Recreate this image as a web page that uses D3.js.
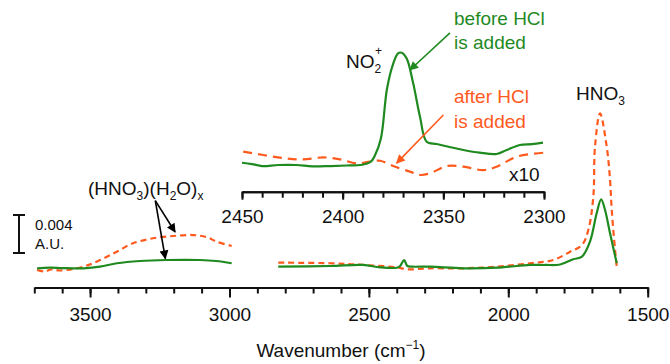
<!DOCTYPE html>
<html>
<head>
<meta charset="utf-8">
<style>
  body { margin: 0; background: #fff; }
  svg { display: block; font-family: "Liberation Sans", Arial, sans-serif; }
</style>
</head>
<body>
<svg width="670" height="364"></svg>
<script src="https://d3js.org/d3.v7.min.js"></script>
<script>

// spectra: [wavenumber (cm-1), absorbance (mA.U.)]
var mainGreenHigh = [[3690, 0.18], [3644, 0.24], [3600, 0.2], [3524, 0.18], [3464, 0.35], [3404, 0.71],
  [3321, 0.95], [3225, 1.05], [3106, 1.05], [3048, 0.95], [2992, 0.71]];
var mainOrangeHigh = [[3690, 0.0], [3662, -0.16], [3640, 0.05], [3608, -0.05], [3524, 0.35], [3464, 1.05],
  [3404, 1.93], [3346, 2.81], [3274, 3.34], [3202, 3.58], [3131, 3.68], [3080, 3.44], [3046, 2.98], [2992, 2.53]];
var mainGreenLow = [[2825, 0.35], [2639, 0.42], [2521, 0.53], [2460, 0.28], [2400, 0.24], [2388, 0.42],
  [2374, 1.05], [2362, 0.42], [2346, 0.35], [2281, 0.35], [2162, 0.18], [2041, 0.24], [1922, 0.53],
  [1868, 0.53], [1814, 0.58], [1767, 1.13], [1736, 1.4], [1707, 2.98], [1683, 5.97], [1667, 7.44],
  [1653, 6.32], [1635, 3.86], [1611, 0.71]];
var mainOrangeLow = [[2825, 0.77], [2639, 0.71], [2521, 0.53], [2400, 0.28], [2364, 0.07], [2281, 0.18],
  [2162, 0.18], [2041, 0.35], [1922, 0.71], [1839, 1.05], [1778, 1.93], [1736, 2.63], [1713, 4.21],
  [1695, 7.72], [1689, 12.98], [1671, 16.49], [1647, 12.98], [1635, 9.47], [1629, 6.32], [1617, 2.1],
  [1611, 0.35]];

// NO2+ region, drawn x10
var insetGreen = [[2450, 0.424], [2445, 0.41], [2440, 0.389], [2432, 0.40], [2423, 0.40], [2415, 0.385],
  [2406, 0.389], [2398, 0.395], [2391, 0.40], [2386, 0.435], [2384, 0.5], [2381, 0.68], [2378, 1.2],
  [2375, 1.46], [2372.5, 1.575], [2370.7, 1.582], [2368.2, 1.52], [2365, 1.263], [2361.6, 0.908],
  [2358.3, 0.645], [2353.3, 0.621], [2347, 0.59], [2340, 0.558], [2332, 0.53], [2323.5, 0.516],
  [2318.5, 0.558], [2312, 0.611], [2306, 0.62], [2300.5, 0.635]];
var insetOrange = [[2449.4, 0.54], [2439.4, 0.505], [2428.6, 0.47], [2419.6, 0.459], [2409.6, 0.48],
  [2401.3, 0.459], [2393, 0.417], [2386.4, 0.435], [2381.4, 0.445], [2374.9, 0.389], [2366.6, 0.33],
  [2361.6, 0.295], [2356.6, 0.312], [2348.3, 0.389], [2340.1, 0.382], [2330.1, 0.347], [2323.5, 0.382],
  [2313.6, 0.487], [2300.3, 0.529]];

var mainMajor = [3500, 3000, 2500, 2000, 1500];
var mainMinor = d3.range(3700, 1499, -100);
var insetMajor = [2450, 2400, 2350, 2300];
var insetMinor = d3.range(2450, 2299, -10);

var green = "#1f8a1f", orange = "#ff5a1e";

var svg = d3.select("svg");

var x = d3.scaleLinear().domain([3700, 1500]).range([34.3, 647.7]);
var y = d3.scaleLinear().domain([0, 4]).range([270, 232]);
var xIn = d3.scaleLinear().domain([2450, 2300]).range([242, 544]);
var yIn = d3.scaleLinear().domain([0, 0.4]).range([203, 165]);   // x10 of main scale

svg.append("defs").selectAll("marker")
  .data([["arrK", "#000"], ["arrG", green], ["arrO", orange]])
  .enter().append("marker")
    .attr("id", function(d) { return d[0]; })
    .attr("viewBox", "0 0 10 10")
    .attr("refX", 9).attr("refY", 5)
    .attr("markerWidth", 11).attr("markerHeight", 9)
    .attr("markerUnits", "userSpaceOnUse")
    .attr("orient", "auto")
  .append("path")
    .attr("d", "M0,0 L10,5 L0,10 Z")
    .attr("fill", function(d) { return d[1]; });

function axis(g, scale, major, minor, bigTick, smallTick) {
  g.append("g").call(d3.axisBottom(scale).tickValues(minor).tickSize(smallTick).tickSizeOuter(0).tickFormat(""));
  g.append("g").call(d3.axisBottom(scale).tickValues(major).tickSize(bigTick).tickSizeOuter(0)
    .tickPadding(10).tickFormat(d3.format("d")));
  g.selectAll("path, line").attr("stroke", "#111").attr("stroke-width", 2);
  g.selectAll("text").attr("font-size", 19).attr("fill", "#111")
    .style("font-family", "'Liberation Sans', Arial, sans-serif");
}

// main axis
var gx = svg.append("g").attr("transform", "translate(0,287.5)");
axis(gx, x, mainMajor, mainMinor, 10, 6);

svg.append("text")
    .attr("x", (x.range()[0] + x.range()[1]) / 2)
    .attr("y", 357)
    .attr("text-anchor", "middle")
    .attr("font-size", 19)
    .attr("fill", "#111")
    .text("Wavenumber (cm")
  .append("tspan").attr("font-size", 12).attr("dy", -8).text("\u22121")
  .clone(true).attr("font-size", 19).attr("dy", 8).text(")");

// inset axis
var gi = svg.append("g").attr("transform", "translate(0,191.7)");
axis(gi, xIn, insetMajor, insetMinor, 8, 6);

var lineMain = d3.line().x(function(d) { return x(d[0]); }).y(function(d) { return y(d[1]); })
    .curve(d3.curveCatmullRom.alpha(0.5));
var lineIn = d3.line().x(function(d) { return xIn(d[0]); }).y(function(d) { return yIn(d[1]); })
    .curve(d3.curveCatmullRom.alpha(0.5));

function draw(data, gen, col, dash) {
  svg.append("path")
      .datum(data)
      .attr("d", gen)
      .attr("fill", "none")
      .attr("stroke", col)
      .attr("stroke-width", 2.2)
      .attr("stroke-dasharray", dash || null);
}

draw(mainOrangeHigh, lineMain, orange, "6,4");
draw(mainGreenHigh, lineMain, green);
draw(mainOrangeLow, lineMain, orange, "6,4");
draw(mainGreenLow, lineMain, green);
draw(insetOrange, lineIn, orange, "9,6");
draw(insetGreen, lineIn, green);

// scale bar 0.004 A.U.
var barBottom = 253, barTop = barBottom - (y(0) - y(4));
svg.append("path")
    .attr("d", "M13," + barTop + "H25M19," + barTop + "V" + barBottom + "M13," + barBottom + "H25")
    .attr("stroke", "#111").attr("stroke-width", 2).attr("fill", "none");
svg.append("text").attr("x", 35).attr("y", 229.5).attr("font-size", 15).attr("fill", "#111").text("0.004");
svg.append("text").attr("x", 35).attr("y", 249).attr("font-size", 15).attr("fill", "#111").text("A.U.");

// labels
function chem(tx, ty, parts, col) {
  var t = svg.append("text").attr("x", tx).attr("y", ty).attr("font-size", 19).attr("fill", col || "#111");
  var shift = 0;
  parts.forEach(function(p) {
    var s = p[1] === "sub" ? 5 : p[1] === "sup" ? -8 : 0;
    t.append("tspan")
        .attr("font-size", p[1] ? 12 : 19)
        .attr("dy", s - shift)
        .text(p[0]);
    shift = s;
  });
  return t;
}

chem(88, 195, [["(HNO"], ["3", "sub"], [")(H"], ["2", "sub"], ["O)"], ["x", "sub"]]);
chem(346, 68, [["NO"], ["2", "sub"]]);
svg.append("text").attr("x", 375).attr("y", 55).attr("font-size", 12).attr("fill", "#111").text("+");
chem(576, 100, [["HNO"], ["3", "sub"]]);

svg.append("text").attr("x", 509).attr("y", 181).attr("font-size", 19).attr("fill", "#111").text("x10");

svg.append("text").attr("x", 454).attr("y", 25).attr("font-size", 19).attr("fill", green).text("before HCl");
svg.append("text").attr("x", 454).attr("y", 48.5).attr("font-size", 19).attr("fill", green).text("is added");
svg.append("text").attr("x", 454).attr("y", 103).attr("font-size", 19).attr("fill", orange).text("after HCl");
svg.append("text").attr("x", 454).attr("y", 128).attr("font-size", 19).attr("fill", orange).text("is added");

// arrows, anchored in data coordinates
function arrow(x1, y1, x2, y2, id, col) {
  svg.append("line")
      .attr("x1", x1).attr("y1", y1).attr("x2", x2).attr("y2", y2)
      .attr("stroke", col).attr("stroke-width", 1.6)
      .attr("marker-end", "url(#" + id + ")");
}
arrow(x(3266), y(7.3), x(3195), y(4.0), "arrK", "#000");
arrow(x(3266), y(7.3), x(3230), y(1.2), "arrK", "#000");
arrow(xIn(2346.7), yIn(1.79), xIn(2366.6), yIn(1.4), "arrG", green);
arrow(xIn(2350), yIn(0.926), xIn(2373.2), yIn(0.42), "arrO", orange);

</script>
</body>
</html>
